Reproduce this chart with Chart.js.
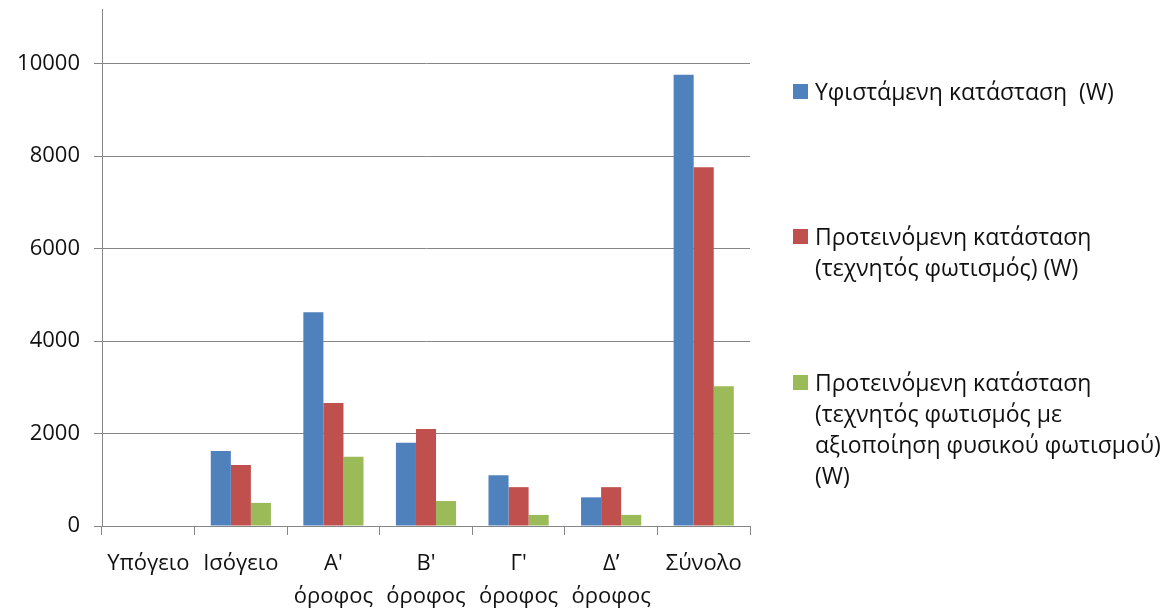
<!DOCTYPE html>
<html>
<head>
<meta charset="utf-8">
<script src="https://cdn.jsdelivr.net/npm/chart.js@4/dist/chart.umd.min.js"></script>
<style>
  html, body { margin: 0; padding: 0; background: #fff; }
  #wrap { position: relative; width: 1169px; height: 608px; }
  #legend { position: absolute; left: 793px; top: 0; font-family: "Open Sans", sans-serif; font-size: 23px; color: #111; }
  .item { position: absolute; left: 0; white-space: pre; }
  .item .box { position: absolute; left: 0; top: 8px; width: 15px; height: 15px; }
  .item .line { margin-left: 22px; line-height: 31px; height: 31px; }
</style>
</head>
<body>
<div id="wrap">
  <canvas id="chart" width="1169" height="608"></canvas>
  <div id="legend"></div>
</div>
<script>
const floors = [
  ["Υπόγειο"], ["Ισόγειο"], ["Α'", "όροφος"], ["Β'", "όροφος"],
  ["Γ'", "όροφος"], ["Δ’", "όροφος"], ["Σύνολο"]
];
const existing = [0, 1620, 4620, 1800, 1100, 620, 9760];
const proposedArtificial = [0, 1320, 2660, 2100, 840, 840, 7760];
const proposedDaylight = [0, 500, 1500, 540, 240, 240, 3020];
const yTicks = [0, 2000, 4000, 6000, 8000, 10000];

const seriesNames = [
  "Υφιστάμενη κατάσταση  (W)",
  "Προτεινόμενη κατάσταση (τεχνητός φωτισμός) (W)",
  "Προτεινόμενη κατάσταση (τεχνητός φωτισμός με αξιοποίηση φυσικού φωτισμού) (W)"
];
// how each legend entry breaks over lines
const legendLines = [
  ["Υφιστάμενη κατάσταση  (W)"],
  ["Προτεινόμενη κατάσταση", "(τεχνητός φωτισμός) (W)"],
  ["Προτεινόμενη κατάσταση", "(τεχνητός φωτισμός με", "αξιοποίηση φυσικού φωτισμού)", "(W)"]
];
const colors = ["#4F81BD", "#C0504D", "#9BBB59"];
const legendTops = [76, 221, 367];

const xFont = { family: "'Open Sans', sans-serif", size: 22, lineHeight: 1.5 };
const yFont = { family: "'Open Sans', sans-serif", size: 22 };
const axisGray = "#868686";

new Chart(document.getElementById("chart"), {
  type: "bar",
  data: {
    labels: floors,
    datasets: [existing, proposedArtificial, proposedDaylight].map((d, i) => ({
      label: seriesNames[i],
      data: d,
      backgroundColor: colors[i],
      borderWidth: 0,
      barPercentage: 1.0,
      categoryPercentage: 0.65
    }))
  },
  options: {
    responsive: false,
    animation: false,
    layout: { padding: { top: 9, right: 419, left: 0, bottom: 0 } },
    plugins: { legend: { display: false }, tooltip: { enabled: false } },
    scales: {
      x: {
        grid: { drawOnChartArea: false, drawTicks: true, tickLength: 9, color: axisGray, offset: true },
        border: { color: axisGray, width: 1 },
        ticks: { color: "#111", font: xFont, padding: 12, maxRotation: 0, autoSkip: false },
        afterFit: s => { s.height = 82; }
      },
      y: {
        min: 0,
        max: 11180,
        grid: { color: axisGray, tickLength: 8 },
        border: { color: axisGray, width: 1 },
        ticks: { color: "#111", font: yFont, padding: 14, callback: v => String(v) },
        afterBuildTicks: s => { s.ticks = yTicks.map(v => ({ value: v })); },
        afterFit: s => { s.width = 102; s.paddingTop = 0; s.paddingBottom = 0; }
      }
    }
  }
});

const legend = document.getElementById("legend");
legendLines.forEach((lines, i) => {
  const item = document.createElement("div");
  item.className = "item";
  item.style.top = legendTops[i] + "px";
  const box = document.createElement("div");
  box.className = "box";
  box.style.background = colors[i];
  item.appendChild(box);
  lines.forEach(t => {
    const ln = document.createElement("div");
    ln.className = "line";
    ln.textContent = t;
    item.appendChild(ln);
  });
  legend.appendChild(item);
});
</script>
</body>
</html>
